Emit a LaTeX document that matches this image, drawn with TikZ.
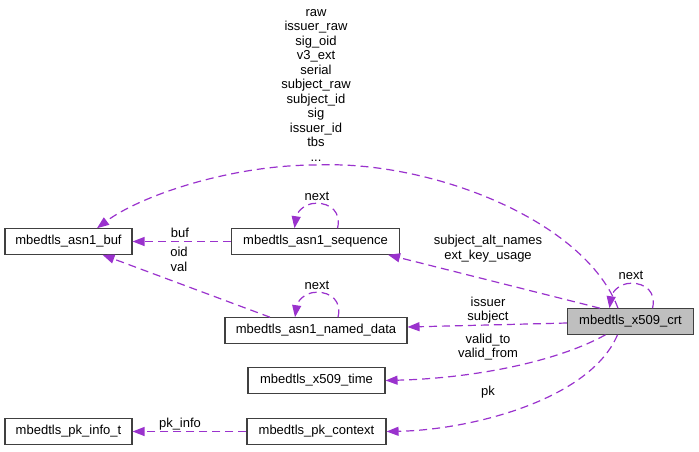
\documentclass[tikz,border=0pt]{standalone}
\usepackage{fontspec}
\setmainfont{Liberation Sans}
\usetikzlibrary{arrows.meta, positioning}
\definecolor{cpurple}{HTML}{9A32CD}
\definecolor{cfill}{HTML}{BFBFBF}
\definecolor{cline}{HTML}{404040}
\tikzset{
  every picture/.style={font=\fontsize{13}{14.5}\selectfont},
  cls/.style={draw=cline, line width=1.1pt, fill=white, minimum width=#1, minimum height=25.5pt, inner sep=0pt},
  cls/.default=127pt,
  link/.style={draw=cpurple, line width=1.2pt, dash pattern=on 8pt off 5pt, -{Triangle[length=12pt, width=9pt]}},
  lbl/.style={align=center, inner sep=0pt},
}

\begin{document}
\begin{tikzpicture}[x=1pt, y=-1pt]
  \useasboundingbox (0,0) rectangle (699,451);
  \node[cls] (buf) at (68.5,241.5) {mbedtls\_asn1\_buf};
  \node[cls=168pt] (seq) at (315.5,241.5) {mbedtls\_asn1\_sequence};
  \node[cls=182pt] (named) at (316,330.5) {mbedtls\_asn1\_named\_data};
  \node[cls=126pt, fill=cfill] (crt) at (630.5,321.5) {mbedtls\_x509\_crt};
  \node[cls=137pt] (time) at (316.5,380.5) {mbedtls\_x509\_time};
  \node[cls=139pt] (pkctx) at (316.5,431.5) {mbedtls\_pk\_context};
  \node[cls] (pkinfo) at (68.5,431.5) {mbedtls\_pk\_info\_t};

  \draw[link] ([xshift=-12.5pt]crt.north) .. controls (585,220) and (430,160) .. (316,165)
    .. controls (230,165) and (140,196) .. ([xshift=28.5pt]buf.north);
  \draw[link] (seq.west) -- (buf.east);
  \draw[link] ([xshift=-46pt]named.north) -- ([xshift=34pt]buf.south);
  \draw[link] ([xshift=-30.5pt]crt.north) -- ([xshift=-12pt]seq.south east);
  \draw[link] ([yshift=-1.5pt]crt.west) -- ([yshift=3.5pt]named.east);
  \draw[link] ([xshift=-25pt]crt.south) .. controls (560,360) and (480,378) .. (time.east);
  \draw[link] ([xshift=-13pt]crt.south) .. controls (590,400) and (470,430) .. (pkctx.east);
  \draw[link] (pkctx.west) -- (pkinfo.east);
  \foreach \n in {seq, named, crt}
    \draw[link] ([xshift=22pt]\n.north) .. controls +(4,-16) and +(14,0) .. ([xshift=1pt, yshift=25pt]\n.north)
      .. controls +(-14,0) and +(2,-14) .. ([xshift=-21pt]\n.north);

  \node[lbl] (ltop) at (316,85) {raw\\issuer\_raw\\sig\_oid\\v3\_ext\\serial\\subject\_raw\\subject\_id\\sig\\issuer\_id\\tbs\\...};
  \node[lbl] (lbuf) at (180,233) {buf};
  \node[lbl] (loid) at (179,259.5) {oid\\val};
  \node[lbl] (lseq) at (488,248.5) {subject\_alt\_names\\ext\_key\_usage};
  \node[lbl] (lnamed) at (488,310) {issuer\\subject};
  \node[lbl] (ltime) at (488,347) {valid\_to\\valid\_from};
  \node[lbl] (lpk) at (488,392) {pk};
  \node[lbl] (lpkinfo) at (180,424) {pk\_info};
  \node[lbl] (lnext1) at (317,196) {next};
  \node[lbl] (lnext2) at (317,285) {next};
  \node[lbl] (lnext3) at (631,275) {next};
\end{tikzpicture}
\end{document}
